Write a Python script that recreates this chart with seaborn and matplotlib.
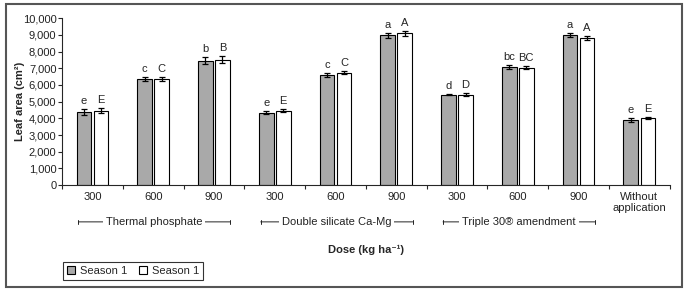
import numpy as np
import pandas as pd
from matplotlib import pyplot as plt
from matplotlib import font_manager as fm
from matplotlib.patches import Rectangle, Patch
import seaborn as sns

# values
dose_labels = ['300', '600', '900', '300', '600', '900', '300', '600', '900', 'Without\napplication']
groups = ['Thermal phosphate', 'Double silicate Ca-Mg', 'Triple 30® amendment']
season1 = [4380, 6340, 7450, 4330, 6600, 8970, 5410, 7050, 8980, 3900]
season2 = [4450, 6360, 7500, 4450, 6720, 9080, 5400, 7030, 8810, 4020]
err1 = [170, 110, 200, 90, 120, 140, 30, 120, 110, 120]
err2 = [150, 110, 210, 90, 90, 170, 90, 90, 110, 70]
letters1 = ['e', 'c', 'b', 'e', 'c', 'a', 'd', 'bc', 'a', 'e']
letters2 = ['E', 'C', 'B', 'E', 'C', 'A', 'D', 'BC', 'A', 'E']
legend_labels = ['Season 1', 'Season 1']

sns.set_style("ticks")
# use a narrow face if one is installed
names = {f.name for f in fm.fontManager.ttflist}
narrow = [n for n in ['Liberation Sans Narrow', 'DejaVu Sans Condensed'] if n in names]
plt.rcParams['font.family'] = narrow + ['Liberation Sans', 'DejaVu Sans']
if not narrow:
    plt.rcParams['font.stretch'] = 'condensed'
plt.rcParams['font.size'] = 8

n = len(dose_labels)
df = pd.DataFrame({
    "pos": list(range(n)) * 2,
    "area": season1 + season2,
    "season": ["s1"] * n + ["s2"] * n,
})

fig = plt.figure(figsize=(6.89, 2.92), dpi=100)
ax = fig.add_axes([0.090, 0.366, 0.882, 0.572])

sns.barplot(data=df, x="pos", y="area", hue="season", order=list(range(n)),
            palette=["#a9a9a9", "white"], width=0.56, gap=0.14,
            edgecolor="black", linewidth=0.8, errorbar=None, legend=False, ax=ax)

for cont, errs, lets in zip(ax.containers, [err1, err2], [letters1, letters2]):
    xs = [p.get_x() + p.get_width() / 2 for p in cont]
    hs = [p.get_height() for p in cont]
    ax.errorbar(xs, hs, yerr=errs, fmt="none", ecolor="black", elinewidth=0.9, capsize=2.5, capthick=0.9)
    for x, h, e, t in zip(xs, hs, errs, lets):
        ax.text(x, h + e + 180, t, ha="center", va="bottom", fontsize=8)

ax.set_ylim(0, 10000)
ax.set_xlim(-0.5, n - 0.5)
ax.set_yticks(np.arange(0, 10001, 1000))
ax.set_yticklabels([f"{v:,}" for v in range(0, 10001, 1000)], fontsize=8, color="#222222")
ax.set_xticks(range(n))
ax.set_xticklabels(dose_labels, fontsize=8, color="#222222", linespacing=1.1)
ax.tick_params(axis="x", length=0, pad=5)
ax.set_xticks(np.arange(-0.5, n, 1), minor=True)
ax.tick_params(axis="x", which="minor", length=3, width=0.8, direction="out")
ax.tick_params(axis="y", length=3, width=0.8, pad=1)
sns.despine(ax=ax)
ax.spines["left"].set_linewidth(0.8)
ax.spines["bottom"].set_linewidth(0.8)
ax.set_xlabel("")
ax.set_ylabel("Leaf area (cm²)", fontweight="bold", fontsize=8)
ax.yaxis.set_label_coords(-0.061, 0.5)

# treatment brackets below the dose labels
for i, g in enumerate(groups):
    x0, x1 = 3 * i - 0.23, 3 * i + 2.27
    ax.annotate("", xy=(x0, -0.22), xytext=(x1, -0.22), xycoords=("data", "axes fraction"),
                arrowprops=dict(arrowstyle="|-|,widthA=0.15,widthB=0.15", lw=0.7, color="#222222",
                                shrinkA=0, shrinkB=0), annotation_clip=False)
    ax.text((x0 + x1) / 2, -0.22, g, transform=ax.get_xaxis_transform(), ha="center", va="center",
            fontsize=8, color="#222222", bbox=dict(facecolor="white", edgecolor="none", pad=2))

ax.text(0.5, -0.385, "Dose (kg ha⁻¹)", transform=ax.transAxes, ha="center", va="center",
        fontweight="bold", fontsize=8)

handles = [Patch(facecolor="#a9a9a9", edgecolor="black", linewidth=0.8),
           Patch(facecolor="white", edgecolor="black", linewidth=0.8)]
leg = fig.legend(handles, legend_labels, ncol=2, loc="lower left", bbox_to_anchor=(63 / 689, 12 / 292),
                 frameon=True, fancybox=False, fontsize=8, handlelength=0.75, handleheight=0.75,
                 handletextpad=0.45, columnspacing=1.0, borderpad=0.35, borderaxespad=0)
leg.get_frame().set_edgecolor("black")
leg.get_frame().set_linewidth(0.8)

fig.patches.append(Rectangle((6 / 689, 5 / 292), 676 / 689, 283 / 292, transform=fig.transFigure,
                             fill=False, edgecolor="#555555", linewidth=1.5))

plt.savefig("out.png", dpi=100)
